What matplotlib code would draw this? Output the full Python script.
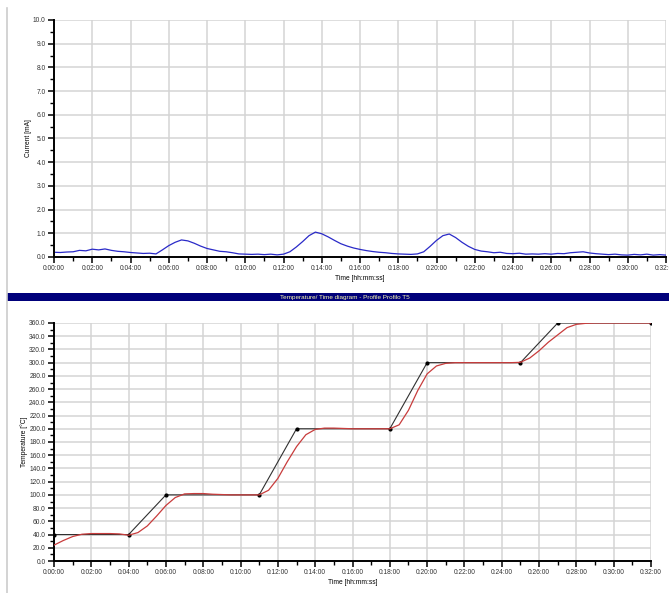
import matplotlib
matplotlib.use("Agg")
import matplotlib.pyplot as plt
from matplotlib.lines import Line2D
from matplotlib.patches import Rectangle
from matplotlib.ticker import MultipleLocator, FuncFormatter

# ---------------------------------------------------------------------------
# Data (time in minutes)
# ---------------------------------------------------------------------------
# current trace, one value every 20 s (0:00:00 .. 0:32:00)
CURRENT_MA = [
    0.20, 0.19, 0.21, 0.22, 0.28, 0.26, 0.33, 0.30, 0.34, 0.28, 0.24, 0.22,
    0.19, 0.17, 0.15, 0.16, 0.13, 0.30, 0.48, 0.62, 0.72, 0.68, 0.58, 0.46,
    0.36, 0.30, 0.24, 0.22, 0.18, 0.13, 0.12, 0.11, 0.12, 0.10, 0.12, 0.09,
    0.12, 0.22, 0.42, 0.65, 0.90, 1.05, 0.98, 0.85, 0.70, 0.56, 0.46, 0.38,
    0.32, 0.27, 0.23, 0.20, 0.18, 0.15, 0.13, 0.12, 0.11, 0.13, 0.22, 0.45,
    0.70, 0.90, 0.97, 0.82, 0.62, 0.45, 0.32, 0.25, 0.22, 0.18, 0.20, 0.15,
    0.14, 0.16, 0.12, 0.13, 0.12, 0.14, 0.12, 0.15, 0.14, 0.18, 0.20, 0.22,
    0.17, 0.14, 0.12, 0.10, 0.12, 0.09, 0.08, 0.11, 0.09, 0.12, 0.08, 0.10,
    0.08,
]
CURRENT_T = [i / 3.0 for i in range(len(CURRENT_MA))]

# set-point profile (break points)
SETPOINT_T = [0, 4, 6, 11, 13, 18, 20, 25, 27, 32]
SETPOINT_C = [40, 40, 100, 100, 200, 200, 300, 300, 360, 360]

# measured temperature, one value every 30 s
MEASURED_C = [
    24, 31, 37, 40.5, 41.5, 41.5, 41.5, 41, 39, 43, 53, 68, 84, 96, 101.5,
    102, 102, 101, 100.5, 100, 100, 100, 100, 107, 125, 150, 173, 191, 199,
    201, 201, 200.5, 200, 200, 200, 200, 200, 206, 228, 258, 283, 295, 299,
    300, 300, 300, 300, 300, 300, 300, 300.5, 307, 318, 331, 342, 353, 358,
    359.5, 360, 360, 360, 360, 360, 360, 360,
]
MEASURED_T = [i * 0.5 for i in range(len(MEASURED_C))]

PANEL_TITLE = "Temperature/ Time diagram - Profile Profilo T5"

# ---------------------------------------------------------------------------
plt.rcParams.update({
    "font.family": ["Liberation Sans", "DejaVu Sans"],
    "font.size": 4.8,
})

W, H = 669, 593
fig = plt.figure(figsize=(W / 100, H / 100), dpi=100)


def _fmt_time(x, _pos):
    m = int(round(x))
    return f"0:{m:02d}:00"


def _style(ax, ymax, ymajor, yminor):
    ax.set_xlim(0, 32)
    ax.set_ylim(0, ymax)
    ax.xaxis.set_major_locator(MultipleLocator(2))
    ax.xaxis.set_minor_locator(MultipleLocator(1))
    ax.xaxis.set_major_formatter(FuncFormatter(_fmt_time))
    ax.yaxis.set_major_locator(MultipleLocator(ymajor))
    ax.yaxis.set_minor_locator(MultipleLocator(yminor))
    ax.yaxis.set_major_formatter(FuncFormatter(lambda v, p: "%.1f" % v))
    ax.grid(True, which="major", color="#d4d4d4", linewidth=1.1)
    ax.set_axisbelow(True)
    for s in ("top", "right"):
        ax.spines[s].set_visible(False)
    for s in ("left", "bottom"):
        ax.spines[s].set_linewidth(1.4)
        ax.spines[s].set_color("black")
    ax.tick_params(which="major", length=4, width=1.1, pad=2,
                   labelsize=4.8, labelcolor="#333333", color="black")
    ax.tick_params(which="minor", length=3, width=1.0, color="black")
    ax.set_xlabel("Time [hh:mm:ss]", fontsize=4.8, labelpad=2)


# --- top: current --------------------------------------------------------
ax1 = fig.add_axes([54 / W, 1 - 257 / H, 612 / W, 237 / H])
ax1.plot(CURRENT_T, CURRENT_MA, color="#2a2ac8", linewidth=0.9)
_style(ax1, 10, 1.0, 0.5)
ax1.set_ylabel("Current [mA]", fontsize=4.8, labelpad=1)

# --- title band ------------------------------------------------------------
fig.add_artist(Rectangle((7 / W, 1 - 301 / H), 1 - 7 / W, 8 / H,
                         transform=fig.transFigure, facecolor="#00007a",
                         edgecolor="none"))
fig.text(345 / W, 1 - 297 / H, PANEL_TITLE, color="#ffffb0",
         fontsize=4.6, ha="center", va="center")

# --- bottom: temperature ---------------------------------------------------
ax2 = fig.add_axes([54 / W, 1 - 561 / H, 597 / W, 238 / H])
ax2.plot(SETPOINT_T, SETPOINT_C, color="#303030", linewidth=0.8,
         marker="o", markersize=2.0, markerfacecolor="black",
         markeredgecolor="black", zorder=3)
ax2.plot(MEASURED_T, MEASURED_C, color="#c83c3c", linewidth=0.9, zorder=4)
_style(ax2, 360, 20, 10)
ax2.set_ylabel("Temperature [\u00b0C]", fontsize=4.8, labelpad=1)

# panel border on the left
fig.add_artist(Line2D([7 / W, 7 / W], [0, 1 - 8 / H],
                      transform=fig.transFigure, color="#cccccc",
                      linewidth=1.2))

fig.savefig("out.png", dpi=100)
